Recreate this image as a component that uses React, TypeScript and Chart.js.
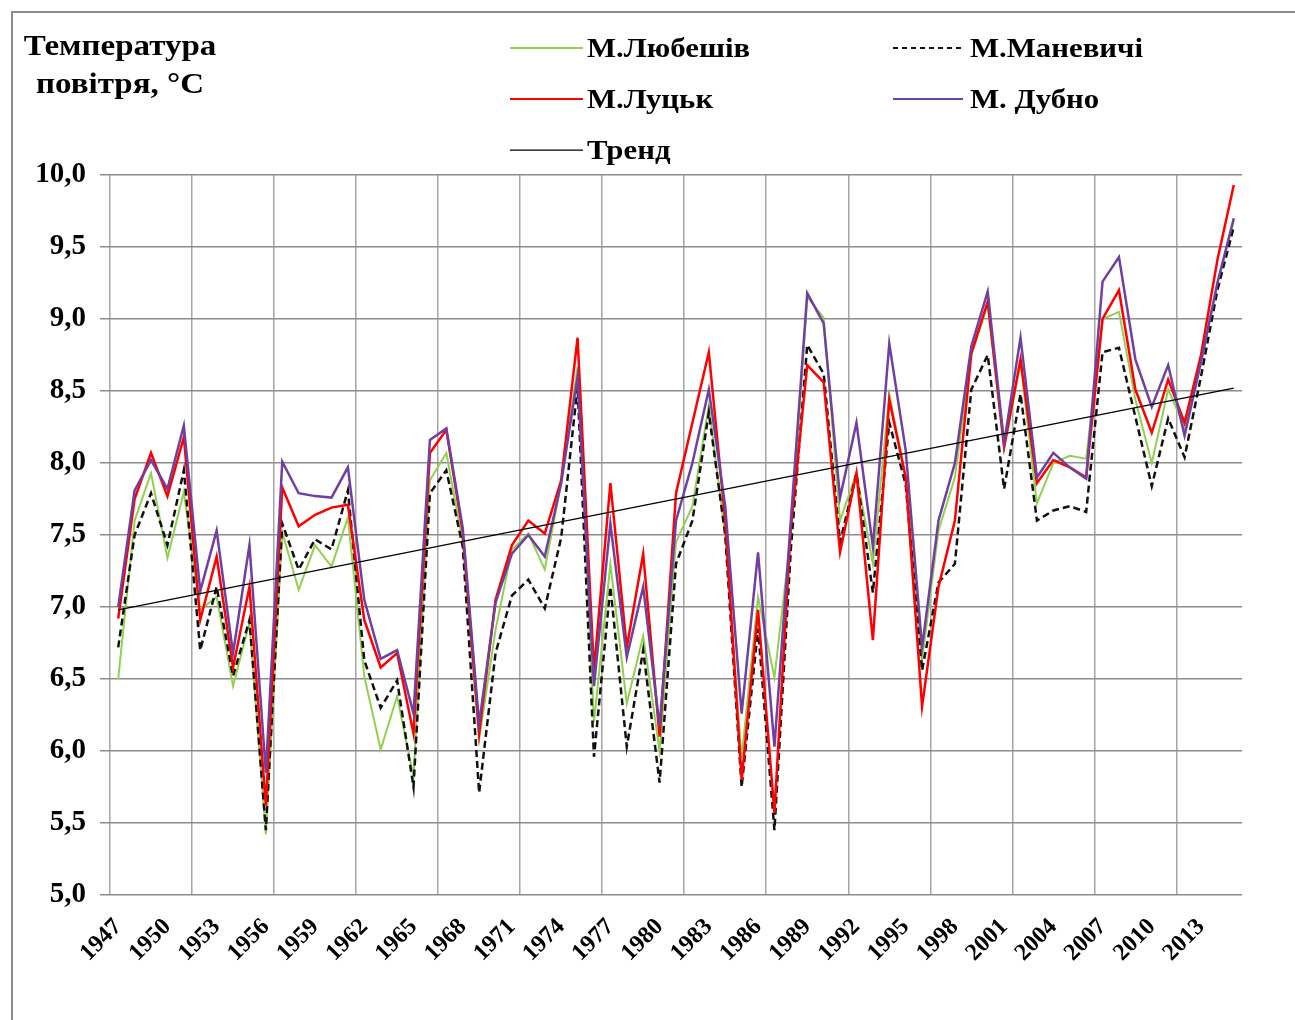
import React, { useEffect, useRef } from "react";
import { Chart, registerables } from "chart.js";

Chart.register(...registerables);

const years = [
  "1947", "1948", "1949", "1950", "1951", "1952", "1953", "1954", "1955", "1956",
  "1957", "1958", "1959", "1960", "1961", "1962", "1963", "1964", "1965", "1966",
  "1967", "1968", "1969", "1970", "1971", "1972", "1973", "1974", "1975", "1976",
  "1977", "1978", "1979", "1980", "1981", "1982", "1983", "1984", "1985", "1986",
  "1987", "1988", "1989", "1990", "1991", "1992", "1993", "1994", "1995", "1996",
  "1997", "1998", "1999", "2000", "2001", "2002", "2003", "2004", "2005", "2006",
  "2007", "2008", "2009", "2010", "2011", "2012", "2013", "2014", "2015",
];

const labelYears = [
  "1947", "1950", "1953", "1956", "1959", "1962", "1965", "1968", "1971", "1974",
  "1977", "1980", "1983", "1986", "1989", "1992", "1995", "1998", "2001", "2004",
  "2007", "2010", "2013",
];

const lyubeshiv = [
  6.5, 7.6, 7.93, 7.34, 7.8, 6.98, 7.07, 6.45, 6.89, 5.42,
  7.52, 7.12, 7.43, 7.28, 7.62, 6.52, 6.01, 6.38, 5.82, 7.88,
  8.07, 7.45, 6.08, 6.84, 7.4, 7.51, 7.26, 7.86, 8.67, 6.2,
  7.3, 6.33, 6.8, 6.0, 7.45, 7.7, 8.4, 7.5, 5.95, 7.07,
  6.51, 7.5, 9.15, 9.01, 7.6, 7.93, 7.3, 8.48, 7.9, 6.63,
  7.53, 7.9, 8.75, 9.1, 8.1, 8.7, 7.72, 8.0, 8.05, 8.03,
  9.0, 9.05, 8.44, 8.0, 8.51, 8.25, 8.7, 9.25, 9.68,
];

const manevychi = [
  6.72, 7.5, 7.79, 7.43, 7.95, 6.7, 7.14, 6.52, 6.91, 5.45,
  7.58, 7.26, 7.47, 7.4, 7.81, 6.63, 6.3, 6.49, 5.75, 7.79,
  7.95, 7.42, 5.71, 6.68, 7.08, 7.19, 6.99, 7.48, 8.53, 5.96,
  7.14, 6.03, 6.7, 5.78, 7.3, 7.6, 8.35, 7.5, 5.75, 6.85,
  5.45, 7.4, 8.82, 8.62, 7.45, 7.93, 7.1, 8.28, 7.85, 6.56,
  7.17, 7.3, 8.51, 8.75, 7.82, 8.48, 7.6, 7.67, 7.7, 7.66,
  8.77, 8.8, 8.32, 7.84, 8.31, 8.04, 8.6, 9.2, 9.64,
];

const lutsk = [
  6.92, 7.75, 8.07, 7.77, 8.18, 6.91, 7.35, 6.58, 7.14, 5.62,
  7.83, 7.56, 7.64, 7.69, 7.71, 6.91, 6.58, 6.68, 6.12, 8.07,
  8.23, 7.52, 6.12, 7.05, 7.43, 7.6, 7.51, 7.88, 8.87, 6.56,
  7.86, 6.72, 7.37, 6.1, 7.79, 8.28, 8.77, 7.6, 5.8, 6.98,
  5.57, 7.55, 8.68, 8.56, 7.38, 7.93, 6.77, 8.44, 7.9, 6.31,
  7.14, 7.6, 8.76, 9.12, 8.11, 8.72, 7.86, 8.02, 7.97, 7.9,
  9.0, 9.2, 8.51, 8.21, 8.58, 8.28, 8.75, 9.41, 9.93,
];

const dubno = [
  7.0, 7.81, 8.02, 7.82, 8.26, 7.11, 7.53, 6.68, 7.43, 5.85,
  8.01, 7.79, 7.77, 7.76, 7.97, 7.05, 6.64, 6.7, 6.26, 8.16,
  8.24, 7.55, 6.19, 7.03, 7.37, 7.5, 7.35, 7.86, 8.6, 6.45,
  7.58, 6.65, 7.14, 6.17, 7.6, 8.0, 8.51, 7.7, 6.26, 7.38,
  6.03, 7.6, 9.18, 8.97, 7.76, 8.28, 7.42, 8.83, 8.09, 6.72,
  7.6, 8.0, 8.81, 9.19, 8.14, 8.87, 7.9, 8.07, 7.97, 7.89,
  9.26, 9.43, 8.72, 8.39, 8.68, 8.19, 8.7, 9.25, 9.7,
];

const trendYears = ["1947", "2015"];
const trendValues = [6.98, 8.52];

const SERIF = "'Liberation Serif', 'Times New Roman', serif";

const decorPlugin = {
  id: "decor",
  beforeDraw(chart: any) {
    const ctx = chart.ctx;
    ctx.save();
    ctx.fillStyle = "#ffffff";
    ctx.fillRect(0, 0, chart.width, chart.height);
    ctx.strokeStyle = "#8c8c8c";
    ctx.lineWidth = 2;
    ctx.strokeRect(12, 12, chart.width, chart.height);
    ctx.restore();
  },
  afterDraw(chart: any) {
    const ctx = chart.ctx;
    const hScale = 1.1;
    ctx.save();
    ctx.fillStyle = "#000";
    ctx.textBaseline = "middle";
    // Axis title (top-left)
    ctx.font = `bold 30px ${SERIF}`;
    ctx.textAlign = "center";
    const titleLines = ["Температура", "повітря, °C"];
    const titleY = [47, 85];
    titleLines.forEach((t, i) => {
      ctx.save();
      ctx.translate(120, titleY[i]);
      ctx.scale(hScale, 1);
      ctx.fillText(t, 0, 0);
      ctx.restore();
    });
    // Legend: 2 columns, row-major
    const colSwatch = [510, 893];
    const colSwatchEnd = [583, 963];
    const colText = [587, 970];
    const rowY = [50, 101, 152];
    ctx.font = `bold 28px ${SERIF}`;
    ctx.textAlign = "left";
    chart.data.datasets.forEach((ds: any, i: number) => {
      const c = i % 2;
      const r = Math.floor(i / 2);
      const y = rowY[r];
      ctx.save();
      ctx.strokeStyle = ds.borderColor;
      ctx.lineWidth = Math.min(ds.borderWidth, 2);
      ctx.setLineDash(ds.borderDash && ds.borderDash.length ? [5, 4] : []);
      ctx.beginPath();
      ctx.moveTo(colSwatch[c], y - 2);
      ctx.lineTo(colSwatchEnd[c], y - 2);
      ctx.stroke();
      ctx.restore();
      ctx.save();
      ctx.translate(colText[c], y);
      ctx.scale(hScale, 1);
      ctx.fillText(ds.label, 0, 0);
      ctx.restore();
    });
    ctx.restore();
  },
};

export default function App() {
  const ref = useRef<HTMLCanvasElement>(null);
  useEffect(() => {
    const lineDs = (label: string, data: number[], color: string, width: number, order: number, dash?: number[]) => ({
      label,
      data,
      borderColor: color,
      backgroundColor: color,
      borderWidth: width,
      borderDash: dash || [],
      pointRadius: 0,
      tension: 0,
      fill: false,
      order,
    });
    const chart = new Chart(ref.current as HTMLCanvasElement, {
      type: "line",
      data: {
        labels: years,
        datasets: [
          lineDs("М.Любешів", lyubeshiv, "#92D050", 2, 5),
          lineDs("М.Маневичі", manevychi, "#111111", 2.5, 4, [7, 4]),
          lineDs("М.Луцьк", lutsk, "#FF0000", 2.5, 3),
          lineDs("М. Дубно", dubno, "#7040A0", 2.5, 2),
          {
            label: "Тренд",
            data: trendYears.map((y, i) => ({ x: y, y: trendValues[i] })),
            borderColor: "#000000",
            backgroundColor: "#000000",
            borderWidth: 1.25,
            borderDash: [],
            pointRadius: 0,
            fill: false,
            order: 1,
          } as any,
        ],
      },
      options: {
        responsive: false,
        animation: false,
        layout: { padding: { top: 175, left: 12, right: 53, bottom: 0 } },
        plugins: {
          legend: { display: false },
          title: { display: false },
          tooltip: { enabled: false },
        },
        scales: {
          x: {
            type: "category",
            offset: true,
            border: { display: false },
            grid: {
              offset: true,
              drawTicks: false,
              lineWidth: 1.5,
              color: (ctx: any) => (ctx.index % 5 === 0 ? "#a6a6a6" : "rgba(0,0,0,0)"),
            },
            ticks: {
              autoSkip: false,
              maxRotation: 45,
              minRotation: 45,
              padding: 18,
              color: "#000",
              font: { family: SERIF, size: 24, weight: "bold" },
              callback: (_v: any, i: number) => (labelYears.includes(years[i]) ? years[i] : ""),
            },
            afterFit: (scale: any) => {
              scale.height = 125;
            },
          },
          y: {
            min: 5,
            max: 10,
            border: { display: false },
            grid: { color: "#8c8c8c", lineWidth: 1.5, tickLength: 10, drawTicks: true },
            ticks: {
              stepSize: 0.5,
              padding: 14,
              color: "#000",
              font: { family: SERIF, size: 29, weight: "bold" },
              callback: (v: any) => Number(v).toFixed(1).replace(".", ","),
            },
            afterFit: (scale: any) => {
              scale.width = 98;
            },
          },
        },
      },
      plugins: [decorPlugin],
    });
    return () => chart.destroy();
  }, []);
  return (
    <div style={{ position: "absolute", left: 0, top: 0, width: 1295, height: 1020, background: "#fff" }}>
      <canvas ref={ref} width={1295} height={1020} style={{ display: "block" }} />
    </div>
  );
}
